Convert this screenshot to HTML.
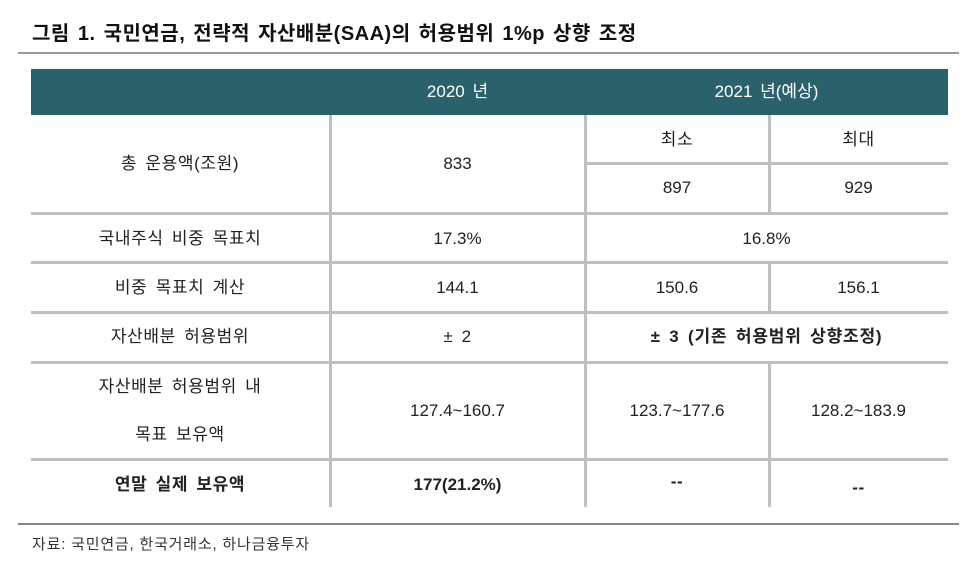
<!DOCTYPE html>
<html><head><meta charset="utf-8"><style>
body{margin:0;width:978px;height:563px;background:#fff;position:relative;overflow:hidden;font-family:"Liberation Sans","Noto Sans CJK KR",sans-serif;color:#222}
.a{position:absolute}
.h{background:#bfbfbf;height:3px}
.v{background:#bfbfbf;width:3px}
.t{position:absolute;text-align:center;font-size:17px;line-height:20px;letter-spacing:0.6px;word-spacing:3px;white-space:nowrap}
.n{letter-spacing:0}
.b{font-weight:bold}
</style></head><body>
<div class="a b" style="left:32px;top:17px;font-size:20px;letter-spacing:0.5px;word-spacing:2px;color:#111;white-space:nowrap">그림 1. 국민연금, 전략적 자산배분(SAA)의 허용범위 1%p 상향 조정</div>
<div class="a" style="left:18px;top:52px;width:941px;height:2px;background:#9a9a9a"></div>
<div class="a" style="left:31px;top:69px;width:917px;height:46px;background:#2b616b"></div>
<div class="t n" style="left:330px;width:255px;top:82px;color:#fff">2020 년</div>
<div class="t n" style="left:585px;width:363px;top:82px;color:#fff">2021 년(예상)</div>
<div class="a h" style="left:585px;top:162px;width:363px"></div>
<div class="a h" style="left:31px;top:212px;width:917px"></div>
<div class="a h" style="left:31px;top:261px;width:917px"></div>
<div class="a h" style="left:31px;top:311px;width:917px"></div>
<div class="a h" style="left:31px;top:361px;width:917px"></div>
<div class="a h" style="left:31px;top:458px;width:917px"></div>
<div class="a" style="left:18px;top:523px;width:941px;height:2px;background:#888"></div>
<div class="a v" style="left:329px;top:115px;height:392px"></div>
<div class="a v" style="left:584px;top:115px;height:392px"></div>
<div class="a v" style="left:768px;top:115px;height:97px"></div>
<div class="a v" style="left:768px;top:262px;height:49px"></div>
<div class="a v" style="left:768px;top:362px;height:145px"></div>
<div class="t" style="left:31px;width:298px;top:154px">총 운용액(조원)</div>
<div class="t n" style="left:330px;width:255px;top:154px">833</div>
<div class="t" style="left:585px;width:184px;top:130px">최소</div>
<div class="t" style="left:769px;width:179px;top:130px">최대</div>
<div class="t n" style="left:585px;width:184px;top:178px">897</div>
<div class="t n" style="left:769px;width:179px;top:178px">929</div>
<div class="t" style="left:31px;width:298px;top:229px">국내주식 비중 목표치</div>
<div class="t n" style="left:330px;width:255px;top:229px">17.3%</div>
<div class="t n" style="left:585px;width:363px;top:229px">16.8%</div>
<div class="t" style="left:31px;width:298px;top:278px">비중 목표치 계산</div>
<div class="t n" style="left:330px;width:255px;top:278px">144.1</div>
<div class="t n" style="left:585px;width:184px;top:278px">150.6</div>
<div class="t n" style="left:769px;width:179px;top:278px">156.1</div>
<div class="t" style="left:31px;width:298px;top:327px">자산배분 허용범위</div>
<div class="t" style="left:330px;width:255px;top:327px">± 2</div>
<div class="t b" style="left:585px;width:363px;top:327px;letter-spacing:0.8px">± 3 (기존 허용범위 상향조정)</div>
<div class="t" style="left:31px;width:298px;top:377px">자산배분 허용범위 내</div>
<div class="t" style="left:31px;width:298px;top:425px">목표 보유액</div>
<div class="t n" style="left:330px;width:255px;top:401px">127.4~160.7</div>
<div class="t n" style="left:585px;width:184px;top:401px">123.7~177.6</div>
<div class="t n" style="left:769px;width:179px;top:401px">128.2~183.9</div>
<div class="t b" style="left:31px;width:298px;top:475px">연말 실제 보유액</div>
<div class="t b n" style="left:330px;width:255px;top:475px">177(21.2%)</div>
<div class="t b" style="left:585px;width:184px;top:472px">--</div>
<div class="t b" style="left:769px;width:179px;top:478px">--</div>
<div class="a" style="left:32px;top:533px;font-size:15px;letter-spacing:0.8px;color:#333;white-space:nowrap">자료: 국민연금, 한국거래소, 하나금융투자</div>
</body></html>
